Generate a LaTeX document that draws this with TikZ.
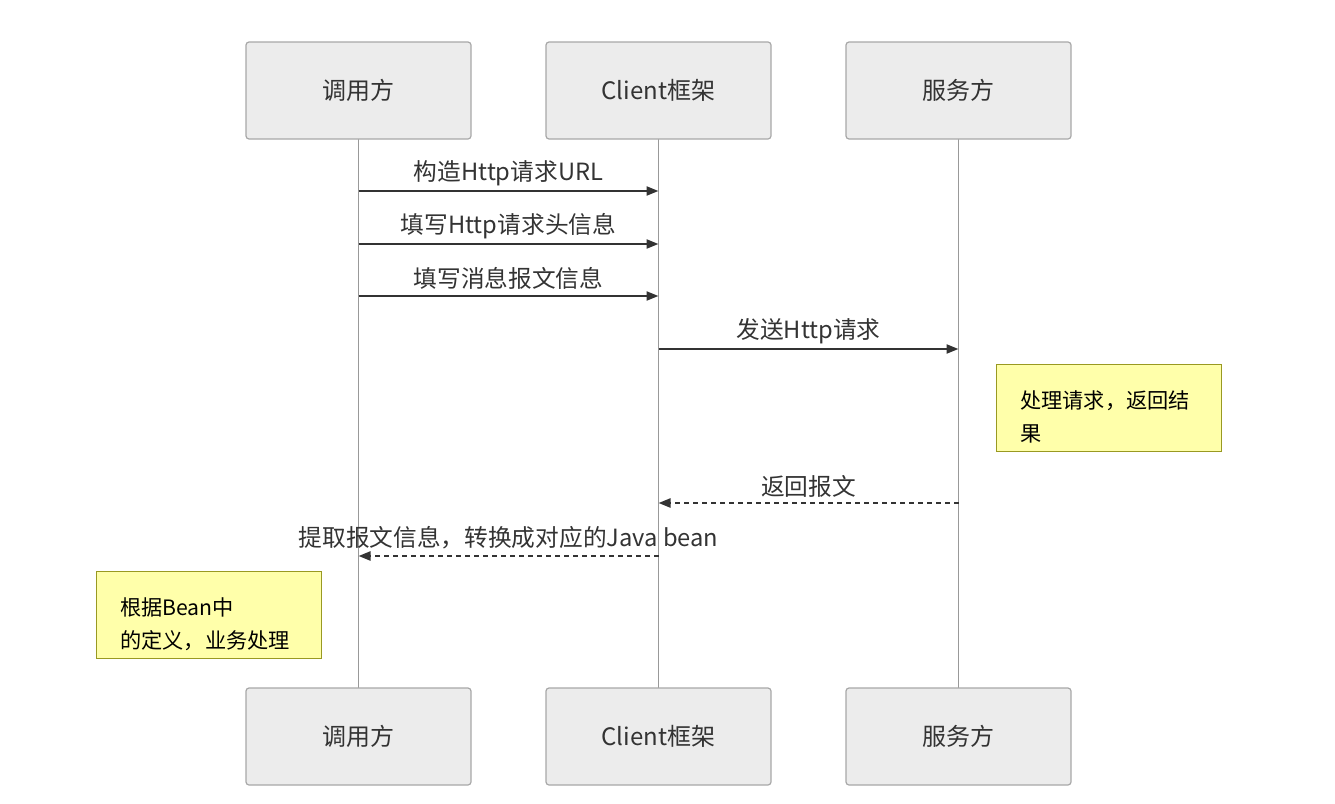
\documentclass[tikz,border=0pt]{standalone}
\usepackage{fontspec}
\setmainfont{Noto Sans CJK SC}
\usetikzlibrary{arrows.meta}
\definecolor{boxfill}{HTML}{ECECEC}
\definecolor{boxline}{HTML}{A8A8A8}
\definecolor{msgline}{HTML}{333333}
\definecolor{notefill}{HTML}{FFFFAA}
\definecolor{noteline}{HTML}{999922}
\begin{document}
\begin{tikzpicture}[x=1pt,y=-1pt,
  actor/.style={draw=boxline,fill=boxfill,line width=1.2pt,rounded corners=3pt,minimum width=225pt,minimum height=97pt,inner sep=0pt,font=\fontsize{24}{28}\selectfont,text=msgline},
  life/.style={draw=gray!80,line width=0.9pt},
  msg/.style={draw=msgline,line width=2.2pt,-{Triangle[length=12pt,width=9pt]}},
  reply/.style={msg,dash pattern=on 5pt off 4pt},
  lbl/.style={font=\fontsize{23.7}{27}\selectfont,text=msgline,inner sep=0pt},
  note/.style={draw=noteline,fill=notefill,line width=1.2pt,minimum width=225pt,minimum height=87pt,inner sep=0pt},
  notetxt/.style={font=\fontsize{21.2}{33}\selectfont,align=left,anchor=north west,inner sep=0pt}]
\useasboundingbox (0,0) rectangle (1335,803);
% lifelines
\coordinate (l1t) at (358.5,139); \coordinate (l1b) at (358.5,688);
\coordinate (l2t) at (658.5,139); \coordinate (l2b) at (658.5,688);
\coordinate (l3t) at (958.5,139); \coordinate (l3b) at (958.5,688);
\draw[life] (l1t) -- (l1b);
\draw[life] (l2t) -- (l2b);
\draw[life] (l3t) -- (l3b);
% actors
\node[actor] (a1) at (358.5,90.5) {调用方};
\node[actor] (a2) at (658.5,90.5) {Client框架};
\node[actor] (a3) at (958.5,90.5) {服务方};
\node[actor] (b1) at (358.5,736.5) {调用方};
\node[actor] (b2) at (658.5,736.5) {Client框架};
\node[actor] (b3) at (958.5,736.5) {服务方};
% message anchors
\coordinate (m1s) at (358.5,191); \coordinate (m1e) at (658.5,191);
\coordinate (m2s) at (358.5,244); \coordinate (m2e) at (658.5,244);
\coordinate (m3s) at (358.5,296); \coordinate (m3e) at (658.5,296);
\coordinate (m4s) at (658.5,349); \coordinate (m4e) at (958.5,349);
\coordinate (m5s) at (958.5,503); \coordinate (m5e) at (658.5,503);
\coordinate (m6s) at (658.5,556); \coordinate (m6e) at (358.5,556);
\draw[msg] (m1s) -- (m1e);
\draw[msg] (m2s) -- (m2e);
\draw[msg] (m3s) -- (m3e);
\draw[msg] (m4s) -- (m4e);
\draw[reply] (m5s) -- (m5e);
\draw[reply] (m6s) -- (m6e);
\node[lbl] (t1) at (508.5,173) {构造Http请求URL};
\node[lbl] (t2) at (508.5,226) {填写Http请求头信息};
\node[lbl] (t3) at (508.5,278) {填写消息报文信息};
\node[lbl] (t4) at (808.5,331) {发送Http请求};
\node[lbl] (t5) at (808.5,486) {返回报文};
\node[lbl] (t6) at (508.5,538) {提取报文信息，转换成对应的Java bean};
% notes
\node[note,anchor=north west] (n1) at (996,364) {};
\node[notetxt] (n1t) at (1020,390) {处理请求，返回结\\果};
\node[note,anchor=north west] (n2) at (96,571) {};
\node[notetxt] (n2t) at (120,597) {根据Bean中\\的定义，业务处理};
\end{tikzpicture}
\end{document}
